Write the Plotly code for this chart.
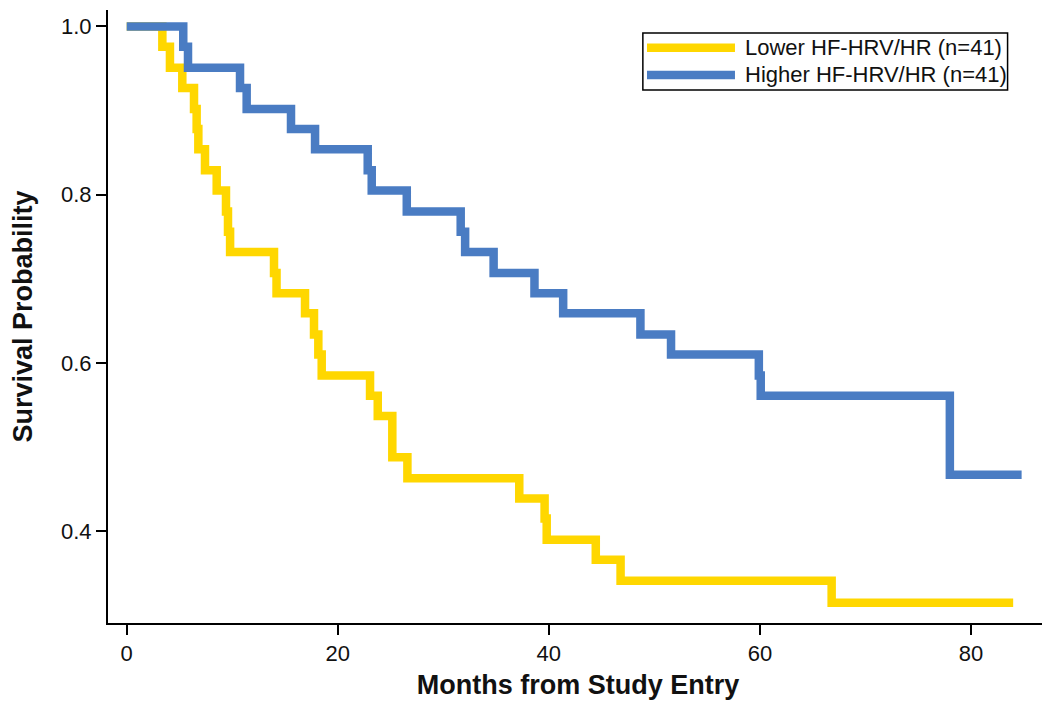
import plotly.graph_objects as go

# ---- data ----
series_names = ["Lower HF-HRV/HR (n=41)", "Higher HF-HRV/HR (n=41)"]
series_colors = ["#FFD700", "#4A7CC3"]

lower_times = [3.38, 4.10, 5.27, 6.38, 6.63, 6.79, 7.42, 8.53, 9.41, 9.60, 9.80,
               13.96, 14.2, 16.9, 17.75, 18.16, 18.48, 23.06, 23.79, 25.17, 26.6,
               37.2, 39.6, 39.8, 44.45, 46.8, 66.8]
lower_surv = [0.976, 0.951, 0.927, 0.902, 0.878, 0.854, 0.829, 0.805, 0.780, 0.756, 0.732,
              0.707, 0.683, 0.659, 0.634, 0.610, 0.585, 0.561, 0.537, 0.488, 0.463,
              0.439, 0.415, 0.390, 0.366, 0.341, 0.315]
lower_end = 84.0

higher_times = [5.36, 5.81, 10.74, 11.37, 15.57, 17.85, 22.84, 23.22, 26.54, 31.65, 32.07,
                34.77, 38.64, 41.36, 48.68, 51.58, 59.9, 60.08, 78.0]
higher_surv = [0.976, 0.951, 0.927, 0.902, 0.878, 0.854, 0.829, 0.805, 0.780, 0.756, 0.732,
               0.707, 0.683, 0.659, 0.634, 0.610, 0.585, 0.561, 0.467]
higher_end = 84.8

x_ticks = [0, 20, 40, 60, 80]
y_ticks = [0.4, 0.6, 0.8, 1.0]
x_title = "Months from Study Entry"
y_title = "Survival Probability"

FONT = "Arial, 'Liberation Sans', sans-serif"


def km_xy(times, surv, end):
    xs = [0.0] + list(times) + [end]
    ys = [1.0] + list(surv) + [surv[-1]]
    return xs, ys


fig = go.Figure()
for name, color, (t, s, e) in zip(series_names, series_colors,
                                  [(lower_times, lower_surv, lower_end),
                                   (higher_times, higher_surv, higher_end)]):
    xs, ys = km_xy(t, s, e)
    fig.add_trace(go.Scatter(x=xs, y=ys, mode="lines", name=name,
                             line=dict(color=color, width=8.5, shape="hv"),
                             showlegend=False, hoverinfo="x+y"))

# custom legend (box, key lines, labels) in paper coordinates
lg_x0, lg_x1, lg_y0, lg_y1 = 0.569, 0.957, 0.8695, 0.9625
key_x0, key_x1, txt_x = 0.5734, 0.667, 0.6755
key_ys = [0.9385, 0.894]
shapes = [dict(type="rect", xref="paper", yref="paper", x0=lg_x0, x1=lg_x1, y0=lg_y0, y1=lg_y1,
               line=dict(color="black", width=1.5), fillcolor="white", layer="above")]
annotations = []
for name, color, ky in zip(series_names, series_colors, key_ys):
    shapes.append(dict(type="line", xref="paper", yref="paper", x0=key_x0, x1=key_x1, y0=ky, y1=ky,
                       line=dict(color=color, width=8.5), layer="above"))
    annotations.append(dict(xref="paper", yref="paper", x=txt_x, y=ky, text=name, showarrow=False,
                            xanchor="left", yanchor="middle",
                            font=dict(family=FONT, size=22, color="#111")))

# the page body has an 8px margin, so the figure is 8px smaller and margins shifted
fig.update_layout(
    width=1042, height=710, autosize=False,
    margin=dict(l=100, r=2, t=2, b=95),
    paper_bgcolor="white", plot_bgcolor="white",
    shapes=shapes, annotations=annotations,
    font=dict(family=FONT, color="#111"),
)
fig.update_xaxes(range=[-1.77, 87.3], tickvals=x_ticks, showgrid=False, zeroline=False,
                 showline=True, linecolor="black", linewidth=2,
                 ticks="outside", ticklen=10, tickwidth=2, tickcolor="black",
                 tickfont=dict(family=FONT, size=22, color="#111"),
                 title=dict(text="<b>" + x_title + "</b>", standoff=10,
                            font=dict(family=FONT, size=27, color="#111")))
fig.update_yaxes(range=[0.2909, 1.0196], tickvals=y_ticks, tickformat=".1f", showgrid=False,
                 zeroline=False, showline=True, linecolor="black", linewidth=2,
                 ticks="outside", ticklen=10, tickwidth=2, tickcolor="black",
                 tickfont=dict(family=FONT, size=22, color="#111"),
                 title=dict(text="<b>" + y_title + "</b>", standoff=28,
                            font=dict(family=FONT, size=27, color="#111")))

fig.write_html("out.html")
